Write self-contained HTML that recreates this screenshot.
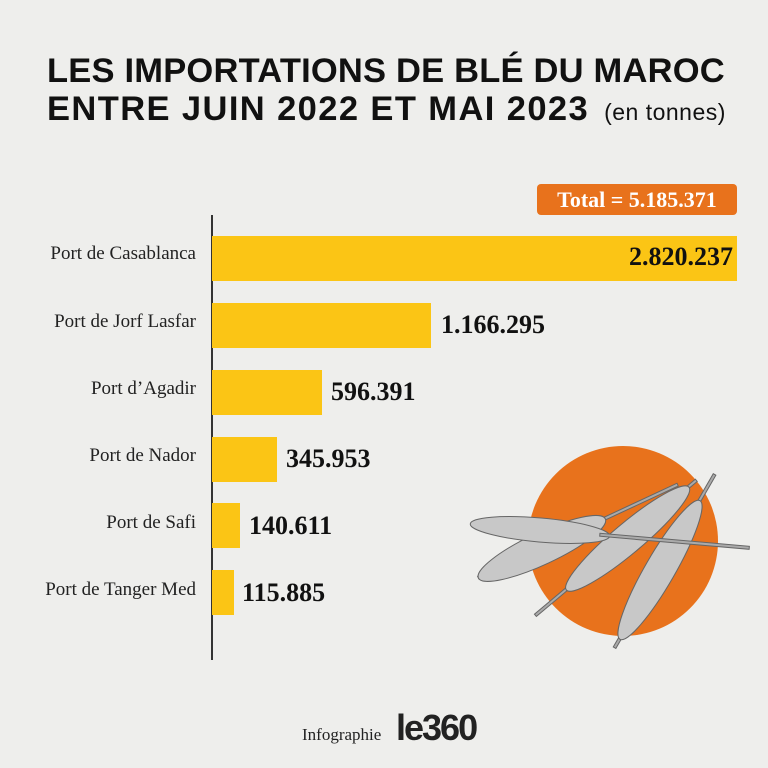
<!DOCTYPE html>
<html><head><meta charset="utf-8"><style>
body{margin:0;width:768px;height:768px;overflow:hidden;background:#eeeeec;position:relative;font-family:"Liberation Sans",sans-serif}
.t{position:absolute;left:47px;white-space:nowrap;font-weight:bold;font-size:34.5px;color:#111;letter-spacing:0.2px}
.bar{position:absolute;left:212px;height:45px;background:#fbc515}
.lab{position:absolute;right:572px;font-family:"Liberation Serif",serif;font-size:19px;color:#222;text-align:right;white-space:nowrap}
.val{position:absolute;font-family:"Liberation Serif",serif;font-weight:bold;font-size:26px;color:#111}
</style></head><body>
<div class="t" style="top:52px">LES IMPORTATIONS DE BLÉ DU MAROC</div>
<div class="t" style="top:90px;letter-spacing:1.4px">ENTRE JUIN 2022 ET MAI 2023 <span style="font-weight:normal;font-size:23px;letter-spacing:0.5px;margin-left:4px">(en tonnes)</span></div>
<div style="position:absolute;left:537px;top:184px;width:200px;height:31px;background:#e8721c;border-radius:4px;color:#fff;font-family:'Liberation Serif',serif;font-weight:bold;font-size:22px;text-align:center;line-height:31px">Total = 5.185.371</div>
<div style="position:absolute;left:211px;top:215px;width:2px;height:445px;background:#333"></div>
<div class="bar" style="top:236px;width:525px"></div>
<div class="bar" style="top:303px;width:219px"></div>
<div class="bar" style="top:370px;width:110px"></div>
<div class="bar" style="top:437px;width:65px"></div>
<div class="bar" style="top:503px;width:28px"></div>
<div class="bar" style="top:570px;width:22px"></div>
<div class="lab" style="top:243px">Port de Casablanca</div>
<div class="lab" style="top:311px">Port de Jorf Lasfar</div>
<div class="lab" style="top:378px">Port d’Agadir</div>
<div class="lab" style="top:445px">Port de Nador</div>
<div class="lab" style="top:512px">Port de Safi</div>
<div class="lab" style="top:579px">Port de Tanger Med</div>
<div class="val" style="top:242px;right:35px">2.820.237</div>
<div class="val" style="top:310px;left:441px">1.166.295</div>
<div class="val" style="top:377px;left:331px">596.391</div>
<div class="val" style="top:444px;left:286px">345.953</div>
<div class="val" style="top:511px;left:249px">140.611</div>
<div class="val" style="top:578px;left:242px">115.885</div>
<svg style="position:absolute;left:0;top:0" width="768" height="768">
<circle cx="623" cy="541" r="95" fill="#e8721c"/>
<g fill="#c8c8c8" stroke="#666" stroke-width="1">
<g transform="translate(560,540) rotate(-25)"><rect x="-90" y="-2" width="220" height="3" fill="#aaa"/>
<ellipse cx="-20" cy="0" rx="70" ry="16"/></g>
<g transform="translate(620,545) rotate(-40)"><rect x="-110" y="-2" width="210" height="3" fill="#aaa"/>
<ellipse cx="10" cy="0" rx="80" ry="15"/></g>
<g transform="translate(660,570) rotate(-60)"><rect x="-90" y="-2" width="200" height="3" fill="#aaa"/>
<ellipse cx="0" cy="0" rx="80" ry="15"/></g>
<g transform="translate(540,530) rotate(5)"><ellipse cx="0" cy="0" rx="70" ry="12"/><rect x="60" y="-2" width="150" height="3" fill="#aaa"/></g>
</g>
</svg>
<div style="position:absolute;left:302px;top:725px;font-family:'Liberation Serif',serif;font-size:17px;color:#222">Infographie</div>
<div style="position:absolute;left:396px;top:707px;font-weight:bold;font-size:36px;color:#222;letter-spacing:-2px">le360</div>
</body></html>
